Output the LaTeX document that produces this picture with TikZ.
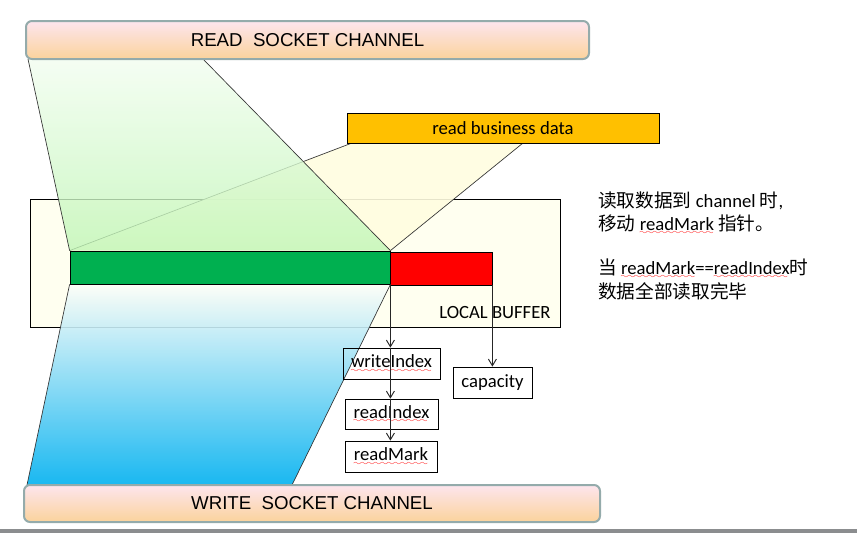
\documentclass[tikz,border=0pt]{standalone}
\usepackage{fontspec}
\setmainfont{Carlito}
\newfontfamily\arialfont{Liberation Sans}
\newfontfamily\cjk{Noto Sans CJK SC}
\usetikzlibrary{arrows.meta,backgrounds}
% 拼写检查的红色波浪线
\font\wavefont=lasy6
\newcommand\spell[1]{\setbox0\hbox{#1}\rlap{\copy0}\textcolor{red}{\lower3.5pt\hbox to\wd0{\leaders\hbox{\wavefont\char58}\hfill}}}
\newdimen\px \px=0.75pt
\definecolor{chanline}{HTML}{94ABAB}
\definecolor{chantop}{HTML}{FDE5EE}
\definecolor{chanbot}{HTML}{FBD39C}
\definecolor{bizgold}{HTML}{FFC000}
\definecolor{bargreen}{HTML}{00B050}
\definecolor{buffill}{HTML}{FFFFF0}
\definecolor{trapyellow}{HTML}{FFFDE0}
\definecolor{greentop}{HTML}{F2FDF0}
\definecolor{greenbot}{HTML}{C0F6B6}
\definecolor{bluetop}{HTML}{FDFEF8}
\definecolor{bluebot}{HTML}{00B0F0}
\definecolor{slidegray}{HTML}{8B8D8F}
\begin{document}
\begin{tikzpicture}[
            x=0.75pt, y=-0.75pt,
            >={Straight Barb[length=5pt,width=6pt]}, % 箭头样式
            font=\fontsize{14}{17}\selectfont,
            chan/.style={draw=chanline, line width=1.5pt, rounded corners=4.5pt,
                top color=chantop, bottom color=chanbot, inner sep=0pt,
                font=\arialfont\fontsize{14}{17}\selectfont}, % 通道框
            ptrbox/.style={draw, line width=0.6pt, inner sep=0pt, minimum height=31\px}, % 指针框
            ptr/.style={->, line width=0.7pt, black!85}, % 指针箭头
            trapline/.style={line width=0.5pt, black!80}
        ]
        \useasboundingbox (0,0) rectangle (857,533);

        % 读写通道
        \node[chan, minimum width=563\px, minimum height=38\px] (readch) at (307.5,40) {READ\ \ SOCKET CHANNEL};
        \node[chan, minimum width=576\px, minimum height=37\px] (writech) at (312,503.5) {WRITE\ \ SOCKET CHANNEL};

        % 业务数据
        \node[draw, fill=bizgold, line width=0.6pt, minimum width=312\px, minimum height=30\px] (bizdata) at (503,128) {read business data};

        % 缓冲区中的数据条
        \node[draw, fill=bargreen, line width=0.6pt, minimum width=320\px, minimum height=33\px] (greenbar) at (230,267.5) {};
        \node[draw, fill=red, line width=0.6pt, minimum width=102\px, minimum height=33\px] (redbar) at (441,268.5) {};
        \node[anchor=base] (buflabel) at (495,318) {LOCAL BUFFER};

        % 指针
        \node[ptrbox, minimum width=97\px] (writeidx) at (391.5,363.5) {\spell{writeIndex}};
        \node[ptrbox, minimum width=93\px, minimum height=30\px] (readidx) at (391.5,414) {\spell{readIndex}};
        \node[ptrbox, minimum width=92\px] (readmk) at (391,456.5) {\spell{readMark}};
        \node[ptrbox, minimum width=79\px] (capacity) at (492.5,382.5) {capacity};

        \draw[ptr] (greenbar.south east) -- (greenbar.south east |- writeidx.north);
        \draw[ptr] (greenbar.south east |- writeidx.north) -- (greenbar.south east |- readidx.north);
        \draw[ptr] (greenbar.south east |- readidx.north) -- (greenbar.south east |- readmk.north);
        \draw[ptr] (redbar.south east) -- (redbar.south east |- capacity.north);

        % 说明文字
        \node[anchor=base west, inner sep=0pt] (note1) at (598,207) {{\cjk 读取数据到} channel {\cjk 时},};
        \node[anchor=base west, inner sep=0pt] (note2) at (598,230) {{\cjk 移动} \spell{readMark} {\cjk 指针。}};
        \node[anchor=base west, inner sep=0pt] (note3) at (598,274) {{\cjk 当} \spell{readMark}==\spell{readIndex}{\cjk 时}};
        \node[anchor=base west, inner sep=0pt] (note4) at (598,298) {\cjk 数据全部读取完毕};

        % 幻灯片底边
        \fill[slidegray] (0,529) rectangle (857,533);

        \begin{scope}[on background layer]
            % 缓冲区
            \node[draw, fill=buffill, line width=0.6pt, minimum width=530\px, minimum height=128\px] (buffer) at (295,263) {};

            % 业务数据投影
            \coordinate (ytl) at (352,143);
            \coordinate (ytr) at (523,143);
            \fill[trapyellow, fill opacity=0.9] (ytl) -- (ytr) -- (greenbar.north east) -- (greenbar.north west) -- cycle;
            \draw[trapline] (ytl) -- (greenbar.north west);
            \draw[trapline] (ytr) -- (greenbar.north east);

            % 读通道投影
            \coordinate (gtl) at (28,59);
            \coordinate (gtr) at (203,59);
            \shade[top color=greentop, bottom color=greenbot, fill opacity=0.8] (gtl) -- (gtr) -- (greenbar.north east) -- (greenbar.north west) -- cycle;
            \draw[trapline] (gtl) -- (greenbar.north west);
            \draw[trapline] (gtr) -- (greenbar.north east);

            % 写通道投影
            \coordinate (bbl) at (27,485);
            \coordinate (bbr) at (292,485);
            \shade[top color=bluetop, bottom color=bluebot, fill opacity=0.9] (greenbar.south west) -- (greenbar.south east) -- (bbr) -- (bbl) -- cycle;
            \draw[trapline] (greenbar.south west) -- (bbl);
            \draw[trapline] (greenbar.south east) -- (bbr);
        \end{scope}

    \end{tikzpicture}
\end{document}
